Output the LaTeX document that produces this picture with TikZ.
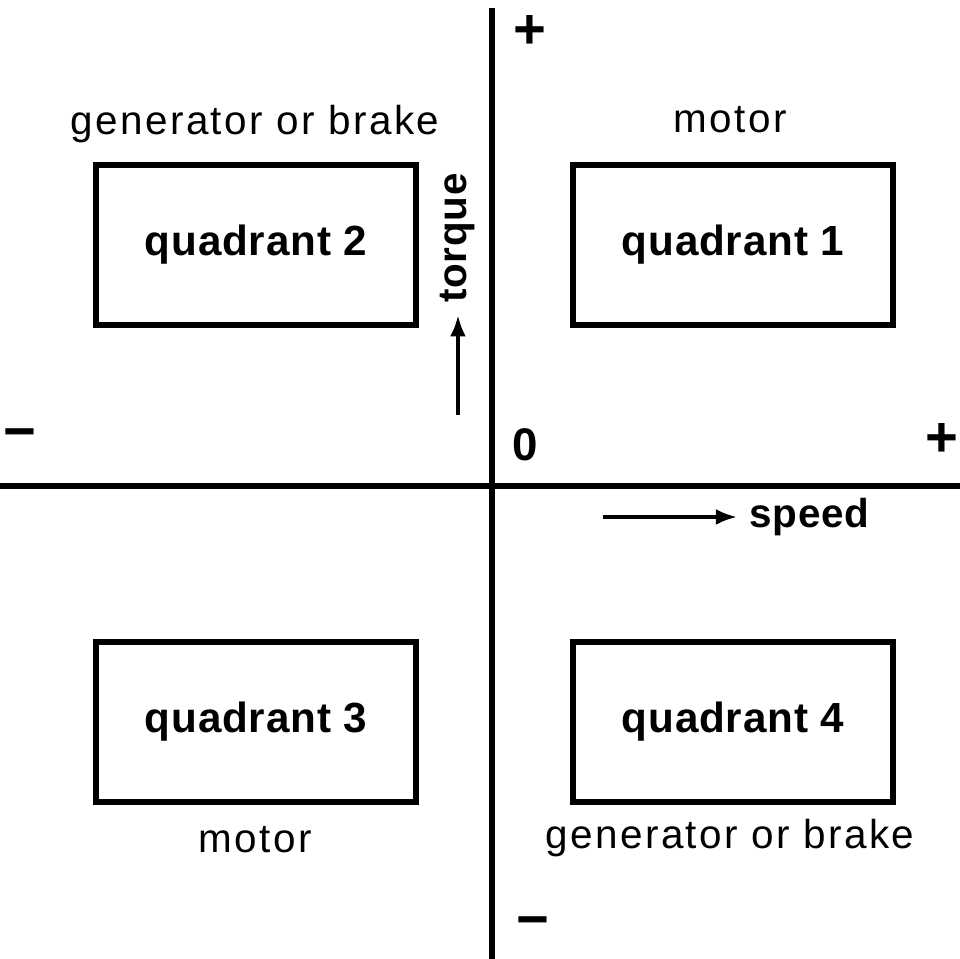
\documentclass[tikz,border=0pt]{standalone}
\usepackage{fontspec}
\setmainfont[LetterSpace=6, BoldFeatures={LetterSpace=2}]{Liberation Sans}
\usetikzlibrary{arrows.meta, positioning}

\begin{document}
\begin{tikzpicture}[
  quad/.style={draw, line width=1.6pt, minimum width=3.2cm, minimum height=1.6cm,
    font=\fontsize{12pt}{14pt}\selectfont\bfseries},
  mode/.style={font=\fontsize{11.5pt}{13pt}\selectfont},
  axlabel/.style={font=\fontsize{11.5pt}{13pt}\selectfont\bfseries},
  sign/.style={font=\fontsize{16pt}{18pt}\selectfont\bfseries},
  axis/.style={line width=1.8pt},
  arrow/.style={-{Latex[length=6pt,width=4.5pt]}, line width=1pt}
]
  \useasboundingbox (-4.92,-4.73) rectangle (4.68,4.86);

  % axes
  \coordinate (top) at (0,4.78);
  \coordinate (bottom) at (0,-4.73);
  \coordinate (left) at (-4.92,0);
  \coordinate (right) at (4.68,0);
  \draw[axis] (top) -- (bottom);
  \draw[axis] (left) -- (right);

  % quadrants
  \node[quad] (q1) at (2.41,2.41) {quadrant 1};
  \node[quad] (q2) at (-2.36,2.41) {quadrant 2};
  \node[quad] (q3) at (-2.36,-2.36) {quadrant 3};
  \node[quad] (q4) at (2.41,-2.36) {quadrant 4};

  \node[mode] (m1) at (2.38,3.66) {motor};
  \node[mode] (m2) at (-2.37,3.62) {generator or brake};
  \node[mode] (m3) at (-2.37,-3.54) {motor};
  \node[mode] (m4) at (2.38,-3.52) {generator or brake};

  % signs
  \node[sign] (tplus) at (0.38,4.54) {+};
  \node[sign] (lminus) at (-4.72,0.46) {−};
  \node[sign] (rplus) at (4.5,0.46) {+};
  \node[sign] (bminus) at (0.41,-4.42) {−};
  \node[axlabel, font=\fontsize{13pt}{15pt}\selectfont\bfseries] (zero) at (0.33,0.41) {0};

  % torque and speed
  \node[axlabel, rotate=90] (torque) at (-0.34,2.48) {torque};
  \coordinate (tq0) at (-0.34,0.71);
  \draw[arrow] (tq0) -- (torque.west);

  \node[axlabel, anchor=west] (speed) at (2.45,-0.31) {speed};
  \coordinate (sp0) at (1.11,-0.31);
  \draw[arrow] (sp0) -- (speed.west);
\end{tikzpicture}
\end{document}
